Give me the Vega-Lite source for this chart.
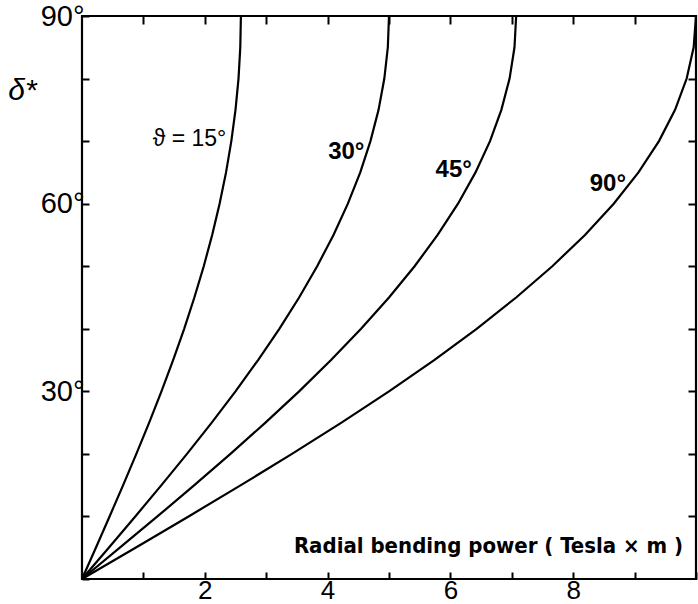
{
  "$schema": "https://vega.github.io/schema/vega-lite/v6.json",
  "width": 614,
  "height": 563,
  "autosize": {"type": "none"},
  "padding": {"left": 82, "top": 16, "right": 2, "bottom": 25},
  "background": "white",
  "config": {
    "view": {"stroke": "#000", "strokeWidth": 2.2},
    "font": "Liberation Sans"
  },
  "datasets": {
    "curves": [
      {"theta": "15", "delta": 0, "bp": 0},
      {"theta": "15", "delta": 5, "bp": 0.226},
      {"theta": "15", "delta": 10, "bp": 0.449},
      {"theta": "15", "delta": 15, "bp": 0.670},
      {"theta": "15", "delta": 20, "bp": 0.885},
      {"theta": "15", "delta": 25, "bp": 1.094},
      {"theta": "15", "delta": 30, "bp": 1.294},
      {"theta": "15", "delta": 35, "bp": 1.484},
      {"theta": "15", "delta": 40, "bp": 1.664},
      {"theta": "15", "delta": 45, "bp": 1.830},
      {"theta": "15", "delta": 50, "bp": 1.983},
      {"theta": "15", "delta": 55, "bp": 2.120},
      {"theta": "15", "delta": 60, "bp": 2.241},
      {"theta": "15", "delta": 65, "bp": 2.346},
      {"theta": "15", "delta": 70, "bp": 2.432},
      {"theta": "15", "delta": 75, "bp": 2.500},
      {"theta": "15", "delta": 80, "bp": 2.549},
      {"theta": "15", "delta": 85, "bp": 2.578},
      {"theta": "15", "delta": 90, "bp": 2.588},
      {"theta": "30", "delta": 0, "bp": 0},
      {"theta": "30", "delta": 5, "bp": 0.436},
      {"theta": "30", "delta": 10, "bp": 0.868},
      {"theta": "30", "delta": 15, "bp": 1.294},
      {"theta": "30", "delta": 20, "bp": 1.710},
      {"theta": "30", "delta": 25, "bp": 2.113},
      {"theta": "30", "delta": 30, "bp": 2.500},
      {"theta": "30", "delta": 35, "bp": 2.868},
      {"theta": "30", "delta": 40, "bp": 3.214},
      {"theta": "30", "delta": 45, "bp": 3.536},
      {"theta": "30", "delta": 50, "bp": 3.830},
      {"theta": "30", "delta": 55, "bp": 4.096},
      {"theta": "30", "delta": 60, "bp": 4.330},
      {"theta": "30", "delta": 65, "bp": 4.532},
      {"theta": "30", "delta": 70, "bp": 4.698},
      {"theta": "30", "delta": 75, "bp": 4.830},
      {"theta": "30", "delta": 80, "bp": 4.924},
      {"theta": "30", "delta": 85, "bp": 4.981},
      {"theta": "30", "delta": 90, "bp": 5.000},
      {"theta": "45", "delta": 0, "bp": 0},
      {"theta": "45", "delta": 5, "bp": 0.616},
      {"theta": "45", "delta": 10, "bp": 1.228},
      {"theta": "45", "delta": 15, "bp": 1.830},
      {"theta": "45", "delta": 20, "bp": 2.418},
      {"theta": "45", "delta": 25, "bp": 2.988},
      {"theta": "45", "delta": 30, "bp": 3.536},
      {"theta": "45", "delta": 35, "bp": 4.056},
      {"theta": "45", "delta": 40, "bp": 4.545},
      {"theta": "45", "delta": 45, "bp": 5.000},
      {"theta": "45", "delta": 50, "bp": 5.417},
      {"theta": "45", "delta": 55, "bp": 5.792},
      {"theta": "45", "delta": 60, "bp": 6.124},
      {"theta": "45", "delta": 65, "bp": 6.409},
      {"theta": "45", "delta": 70, "bp": 6.645},
      {"theta": "45", "delta": 75, "bp": 6.830},
      {"theta": "45", "delta": 80, "bp": 6.964},
      {"theta": "45", "delta": 85, "bp": 7.044},
      {"theta": "45", "delta": 90, "bp": 7.071},
      {"theta": "90", "delta": 0, "bp": 0},
      {"theta": "90", "delta": 5, "bp": 0.872},
      {"theta": "90", "delta": 10, "bp": 1.736},
      {"theta": "90", "delta": 15, "bp": 2.588},
      {"theta": "90", "delta": 20, "bp": 3.420},
      {"theta": "90", "delta": 25, "bp": 4.226},
      {"theta": "90", "delta": 30, "bp": 5.000},
      {"theta": "90", "delta": 35, "bp": 5.736},
      {"theta": "90", "delta": 40, "bp": 6.428},
      {"theta": "90", "delta": 45, "bp": 7.071},
      {"theta": "90", "delta": 50, "bp": 7.660},
      {"theta": "90", "delta": 55, "bp": 8.192},
      {"theta": "90", "delta": 60, "bp": 8.660},
      {"theta": "90", "delta": 65, "bp": 9.063},
      {"theta": "90", "delta": 70, "bp": 9.397},
      {"theta": "90", "delta": 75, "bp": 9.659},
      {"theta": "90", "delta": 80, "bp": 9.848},
      {"theta": "90", "delta": 85, "bp": 9.962},
      {"theta": "90", "delta": 90, "bp": 10.000}
    ],
    "labels": [
      {"lx": 4.6, "ly": 68.3, "label": "30°"},
      {"lx": 6.35, "ly": 65.4, "label": "45°"},
      {"lx": 8.86, "ly": 63.2, "label": "90°"}
    ],
    "thetaLabel": [
      {"lx": 2.35, "ly": 70.3, "label": "ϑ = 15°"}
    ]
  },
  "resolve": {"axis": {"x": "independent", "y": "independent"}},
  "layer": [
    {
      "data": {"name": "curves"},
      "mark": {"type": "line", "color": "#000", "strokeWidth": 2.2},
      "encoding": {
        "x": {
          "field": "bp",
          "type": "quantitative",
          "scale": {"domain": [0, 10], "nice": false, "zero": true},
          "axis": {
            "orient": "bottom",
            "values": [0, 1, 2, 3, 4, 5, 6, 7, 8, 9, 10],
            "labelExpr": "datum.value % 2 == 0 && datum.value > 0 && datum.value < 10 ? datum.label : ''",
            "labelFlush": false,
            "labelFontSize": 26,
            "labelColor": "#000",
            "labelPadding": 5,
            "tickSize": -7,
            "tickWidth": 2,
            "tickColor": "#000",
            "domain": false,
            "grid": false,
            "title": "Radial bending power ( Tesla × m )",
            "titleX": 406,
            "titleY": -34,
            "titleAlign": "center",
            "titleBaseline": "middle",
            "titleFont": "Liberation Sans Narrow, DejaVu Sans Condensed, sans-serif",
            "titleFontSize": 22,
            "titleFontWeight": "bold",
            "titleColor": "#000"
          }
        },
        "y": {
          "field": "delta",
          "type": "quantitative",
          "scale": {"domain": [0, 90], "nice": false},
          "axis": {
            "orient": "left",
            "values": [0, 10, 20, 30, 40, 50, 60, 70, 80, 90],
            "labelExpr": "datum.value == 30 || datum.value == 60 || datum.value == 90 ? datum.value + '°' : ''",
            "labelFontSize": 29,
            "labelColor": "#000",
            "labelPadding": 5,
            "tickSize": -7,
            "tickWidth": 2,
            "tickColor": "#000",
            "domain": false,
            "grid": false,
            "title": "δ*",
            "titleAngle": 0,
            "titleX": -60,
            "titleY": 74,
            "titleAlign": "center",
            "titleBaseline": "middle",
            "titleFontSize": 30,
            "titleFontWeight": "normal",
            "titleFontStyle": "italic",
            "titleColor": "#000"
          }
        },
        "detail": {"field": "theta", "type": "nominal"}
      }
    },
    {
      "data": {"name": "labels"},
      "mark": {"type": "text", "align": "right", "baseline": "middle", "fontSize": 24, "fontWeight": "bold", "color": "#000"},
      "encoding": {
        "x": {
          "field": "lx",
          "type": "quantitative",
          "axis": {
            "orient": "top",
            "values": [1, 2, 3, 4, 5, 6, 7, 8, 9],
            "labels": false,
            "tickSize": -8,
            "tickWidth": 2,
            "tickColor": "#000",
            "domain": false,
            "grid": false,
            "title": null
          }
        },
        "y": {
          "field": "ly",
          "type": "quantitative",
          "axis": {
            "orient": "right",
            "values": [10, 20, 30, 40, 50, 60, 70, 80],
            "labels": false,
            "tickSize": -8,
            "tickWidth": 2,
            "tickColor": "#000",
            "domain": false,
            "grid": false,
            "title": null
          }
        },
        "text": {"field": "label", "type": "nominal"}
      }
    },
    {
      "data": {"name": "thetaLabel"},
      "mark": {"type": "text", "align": "right", "baseline": "middle", "fontSize": 23, "color": "#000"},
      "encoding": {
        "x": {"field": "lx", "type": "quantitative", "axis": null},
        "y": {"field": "ly", "type": "quantitative", "axis": null},
        "text": {"field": "label", "type": "nominal"}
      }
    }
  ]
}
